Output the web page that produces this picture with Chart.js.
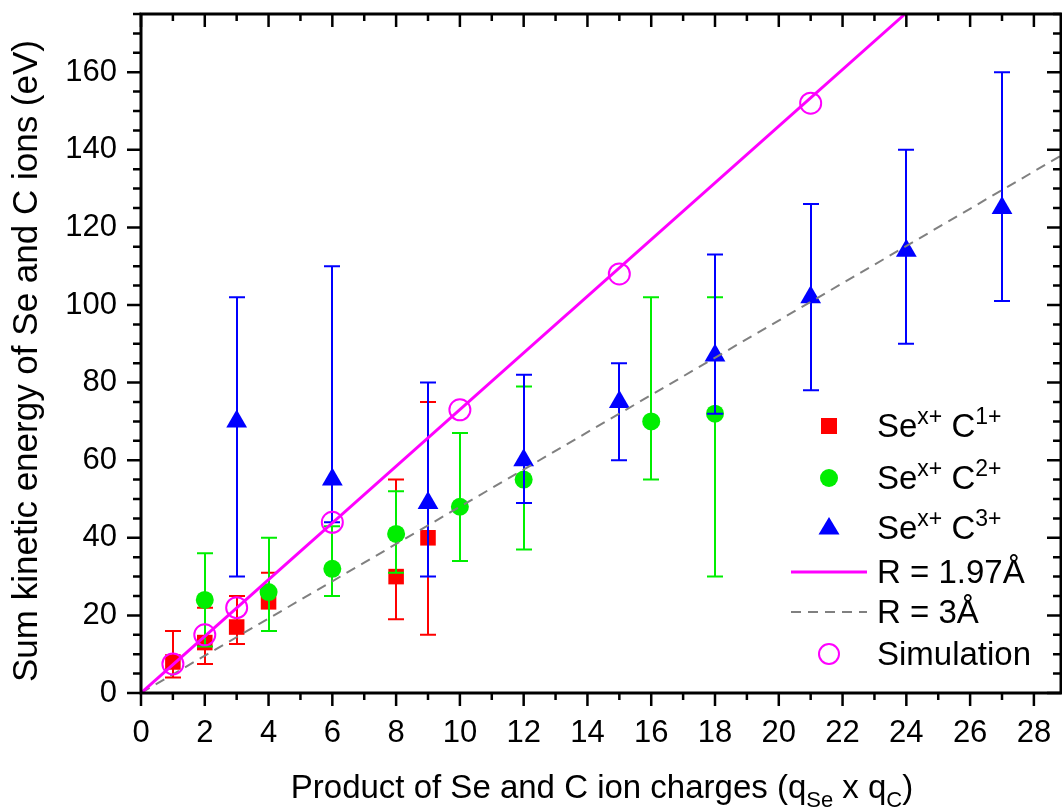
<!DOCTYPE html>
<html>
<head>
<meta charset="utf-8">
<script src="https://cdn.jsdelivr.net/npm/chart.js@4/dist/chart.umd.min.js"></script>
<style>
  html, body { margin: 0; padding: 0; background: #fff; }
  canvas { display: block; }
</style>
</head>
<body>
<canvas id="chart" width="1062" height="809"></canvas>
<script>
// ==============================
// Data
// ==============================
const c1X = [1, 2, 3, 4, 8, 9];
const c1Y = [8, 13, 17, 23.5, 30, 40];
const c1Low = [4, 7.5, 12.6, 16, 19, 15];
const c1High = [16, 22, 25, 31, 55, 75];

const c2X = [2, 4, 6, 8, 10, 12, 16, 18];
const c2Y = [24, 26, 32, 41, 48, 55, 70, 72];
const c2Low = [12, 16, 25, 31, 34, 37, 55, 30];
const c2High = [36, 40, 43, 52, 67, 79, 102, 102];

const c3X = [3, 6, 9, 12, 15, 18, 21, 24, 27];
const c3Y = [70, 55, 49, 60, 75, 87, 102, 114, 125];
const c3Low = [30, 44, 30, 49, 60, 72, 78, 90, 101];
const c3High = [102, 110, 80, 82, 85, 113, 126, 140, 160];

const simX = [1, 2, 3, 6, 10, 15, 21];
const simY = [7.5, 15, 22, 44, 73, 108, 152];

// straight model lines, end points only
const r197X = [0, 23.96];
const r197Y = [0, 175];
const r3X = [0, 28.85];
const r3Y = [0, 138.5];

const xTicks = [0, 2, 4, 6, 8, 10, 12, 14, 16, 18, 20, 22, 24, 26, 28];
const yTicks = [0, 20, 40, 60, 80, 100, 120, 140, 160];

const FONT = "'Liberation Sans', Arial, sans-serif";

const pts = (xs, ys) => xs.map((x, i) => ({ x: x, y: ys[i] }));

// ==============================
// Plugins
// ==============================

// error bars, drawn just before each dataset's markers
const errorBars = {
    id: 'errorBars',
    beforeDatasetDraw(chart, args) {
        const ds = chart.data.datasets[args.index];
        if (!ds.errLow) return;
        const xs = chart.scales.x, ys = chart.scales.y;
        const ctx = chart.ctx;
        ctx.save();
        ctx.strokeStyle = ds.backgroundColor;
        ctx.lineWidth = 2;
        ds.data.forEach((p, i) => {
            const px = Math.round(xs.getPixelForValue(p.x));
            const top = ys.getPixelForValue(ds.errHigh[i]);
            const bot = ys.getPixelForValue(ds.errLow[i]);
            ctx.beginPath();
            ctx.moveTo(px, top); ctx.lineTo(px, bot);
            ctx.moveTo(px - 8, top); ctx.lineTo(px + 8, top);
            ctx.moveTo(px - 8, bot); ctx.lineTo(px + 8, bot);
            ctx.stroke();
        });
        ctx.restore();
    }
};

// box frame with major / minor ticks
const frame = {
    id: 'frame',
    afterDraw(chart) {
        const { ctx, chartArea: a } = chart;
        const xs = chart.scales.x, ys = chart.scales.y;
        ctx.save();
        ctx.strokeStyle = '#000';
        ctx.lineWidth = 2.5;
        ctx.beginPath();
        // x ticks: outward at bottom, inward at top
        for (let v = 0; v <= xs.max; v += 1) {
            const px = xs.getPixelForValue(v);
            const len = v % 2 === 0 ? 13 : 7;
            ctx.moveTo(px, a.bottom); ctx.lineTo(px, a.bottom + len);
            ctx.moveTo(px, a.top); ctx.lineTo(px, a.top + len);
        }
        // y ticks: outward on left, inward on right
        for (let v = 0; v <= ys.max; v += 5) {
            const py = ys.getPixelForValue(v);
            const len = v % 20 === 0 ? 14 : 8;
            ctx.moveTo(a.left, py); ctx.lineTo(a.left - len, py);
            ctx.moveTo(a.right, py); ctx.lineTo(a.right - len, py);
        }
        ctx.stroke();
        ctx.lineWidth = 3;
        ctx.strokeRect(a.left, a.top, a.right - a.left, a.bottom - a.top);
        ctx.restore();
    }
};

// draws text pieces one after another (super/subscripts via dy)
function textRun(ctx, parts, x, y) {
    parts.forEach(p => {
        ctx.font = p.size + 'px ' + FONT;
        ctx.fillText(p.t, x, y + (p.dy || 0));
        x += ctx.measureText(p.t).width;
    });
    return x;
}

const titlesAndLegend = {
    id: 'titlesAndLegend',
    afterDraw(chart) {
        const { ctx } = chart;
        ctx.save();
        ctx.fillStyle = '#000';
        ctx.textAlign = 'left';
        ctx.textBaseline = 'alphabetic';

        // x title with subscripts
        const xParts = [
            { t: 'Product of Se and C ion charges (q', size: 33 },
            { t: 'Se', size: 22, dy: 9 },
            { t: ' x q', size: 33 },
            { t: 'C', size: 22, dy: 9 },
            { t: ')', size: 33 }
        ];
        let w = 0;
        xParts.forEach(p => { ctx.font = p.size + 'px ' + FONT; w += ctx.measureText(p.t).width; });
        textRun(ctx, xParts, 602 - w / 2, 798);

        // y title, rotated
        ctx.save();
        ctx.translate(37, 361);
        ctx.rotate(-Math.PI / 2);
        ctx.font = '35px ' + FONT;
        ctx.textAlign = 'center';
        ctx.fillText('Sum kinetic energy of Se and C ions (eV)', 0, 0);
        ctx.restore();

        // legend
        const mx = 829, tx = 877;
        const ionRows = [
            { y: 426, sup: '1+' },
            { y: 478, sup: '2+' },
            { y: 528, sup: '3+' }
        ];
        // markers
        ctx.fillStyle = '#ff0000';
        ctx.fillRect(mx - 8, 426 - 8, 16, 16);
        ctx.fillStyle = '#00ee00';
        ctx.beginPath(); ctx.arc(mx, 478, 9, 0, Math.PI * 2); ctx.fill();
        ctx.fillStyle = '#0000ff';
        ctx.beginPath();
        ctx.moveTo(mx, 528 - 11); ctx.lineTo(mx + 10.5, 528 + 6.5); ctx.lineTo(mx - 10.5, 528 + 6.5);
        ctx.closePath(); ctx.fill();

        ctx.lineWidth = 3;
        ctx.strokeStyle = '#ff00ff';
        ctx.beginPath(); ctx.moveTo(791, 572); ctx.lineTo(867, 572); ctx.stroke();
        ctx.lineWidth = 2;
        ctx.strokeStyle = '#808080';
        ctx.setLineDash([10, 7]);
        ctx.beginPath(); ctx.moveTo(791, 612); ctx.lineTo(867, 612); ctx.stroke();
        ctx.setLineDash([]);
        ctx.strokeStyle = '#ff00ff';
        ctx.beginPath(); ctx.arc(mx, 654, 10, 0, Math.PI * 2); ctx.stroke();

        // legend texts
        ctx.fillStyle = '#000';
        ionRows.forEach(r => {
            textRun(ctx, [
                { t: 'Se', size: 33 },
                { t: 'x+', size: 23, dy: -13 },
                { t: ' C', size: 33 },
                { t: r.sup, size: 23, dy: -13 }
            ], tx, r.y + 11);
        });
        ctx.font = '33px ' + FONT;
        ctx.fillText('R = 1.97\u00C5', tx, 583);
        ctx.fillText('R = 3\u00C5', tx, 623);
        ctx.fillText('Simulation', tx, 665);
        ctx.restore();
    }
};

// drop the label overhang padding Chart.js adds around the plot
const noOverhang = s => {
    s.paddingTop = 0; s.paddingBottom = 0;
    s.paddingLeft = 0; s.paddingRight = 0;
};

// ==============================
// Chart.js Initialization
// ==============================
const ctx = document.getElementById('chart').getContext('2d');
const chart = new Chart(ctx, {
    type: 'scatter',
    data: {
        datasets: [
            {
                label: 'Simulation',
                data: pts(simX, simY),
                pointStyle: 'circle',
                pointRadius: 10.5,
                borderColor: '#ff00ff',
                backgroundColor: 'rgba(0,0,0,0)',
                pointBorderWidth: 2,
                order: 0
            },
            {
                label: 'R = 1.97Å',
                data: pts(r197X, r197Y),
                showLine: true,
                pointRadius: 0,
                borderColor: '#ff00ff',
                borderWidth: 3,
                order: 1
            },
            {
                label: 'R = 3Å',
                data: pts(r3X, r3Y),
                showLine: true,
                pointRadius: 0,
                borderColor: '#808080',
                borderWidth: 2,
                borderDash: [10, 7],
                order: 2
            },
            {
                label: 'C3+',
                data: pts(c3X, c3Y),
                errLow: c3Low,
                errHigh: c3High,
                pointStyle: 'triangle',
                pointRadius: 12,
                backgroundColor: '#0000ff',
                borderColor: '#0000ff',
                pointBorderWidth: 0,
                order: 3
            },
            {
                label: 'C2+',
                data: pts(c2X, c2Y),
                errLow: c2Low,
                errHigh: c2High,
                pointStyle: 'circle',
                pointRadius: 9,
                backgroundColor: '#00ee00',
                borderColor: '#00ee00',
                pointBorderWidth: 0,
                order: 4
            },
            {
                label: 'C1+',
                data: pts(c1X, c1Y),
                errLow: c1Low,
                errHigh: c1High,
                pointStyle: 'rect',
                pointRadius: 11,
                backgroundColor: '#ff0000',
                borderColor: '#ff0000',
                pointBorderWidth: 0,
                order: 5
            }
        ]
    },
    options: {
        responsive: false,
        animation: false,
        layout: { autoPadding: false, padding: { top: 14, right: 1, left: 0, bottom: 0 } },
        plugins: { legend: { display: false }, tooltip: { enabled: false } },
        scales: {
            x: {
                type: 'linear',
                min: 0,
                max: 28.85,
                afterBuildTicks: s => { s.ticks = xTicks.map(v => ({ value: v })); },
                afterFit: s => { s.height = 116; noOverhang(s); },
                // invisible tick marks give the label gap (our own ticks are drawn in the frame plugin)
                grid: { display: false, drawTicks: true, tickLength: 22 },
                border: { display: false },
                ticks: {
                    autoSkip: false,
                    maxRotation: 0,
                    padding: 0,
                    color: '#000',
                    font: { family: FONT, size: 31 }
                }
            },
            y: {
                type: 'linear',
                min: 0,
                max: 175,
                afterBuildTicks: s => { s.ticks = yTicks.map(v => ({ value: v })); },
                afterFit: s => { s.width = 141; noOverhang(s); },
                grid: { display: false, drawTicks: true, tickLength: 24 },
                border: { display: false },
                ticks: {
                    padding: 0,
                    color: '#000',
                    font: { family: FONT, size: 31 }
                }
            }
        }
    },
    plugins: [errorBars, frame, titlesAndLegend]
});
</script>
</body>
</html>
